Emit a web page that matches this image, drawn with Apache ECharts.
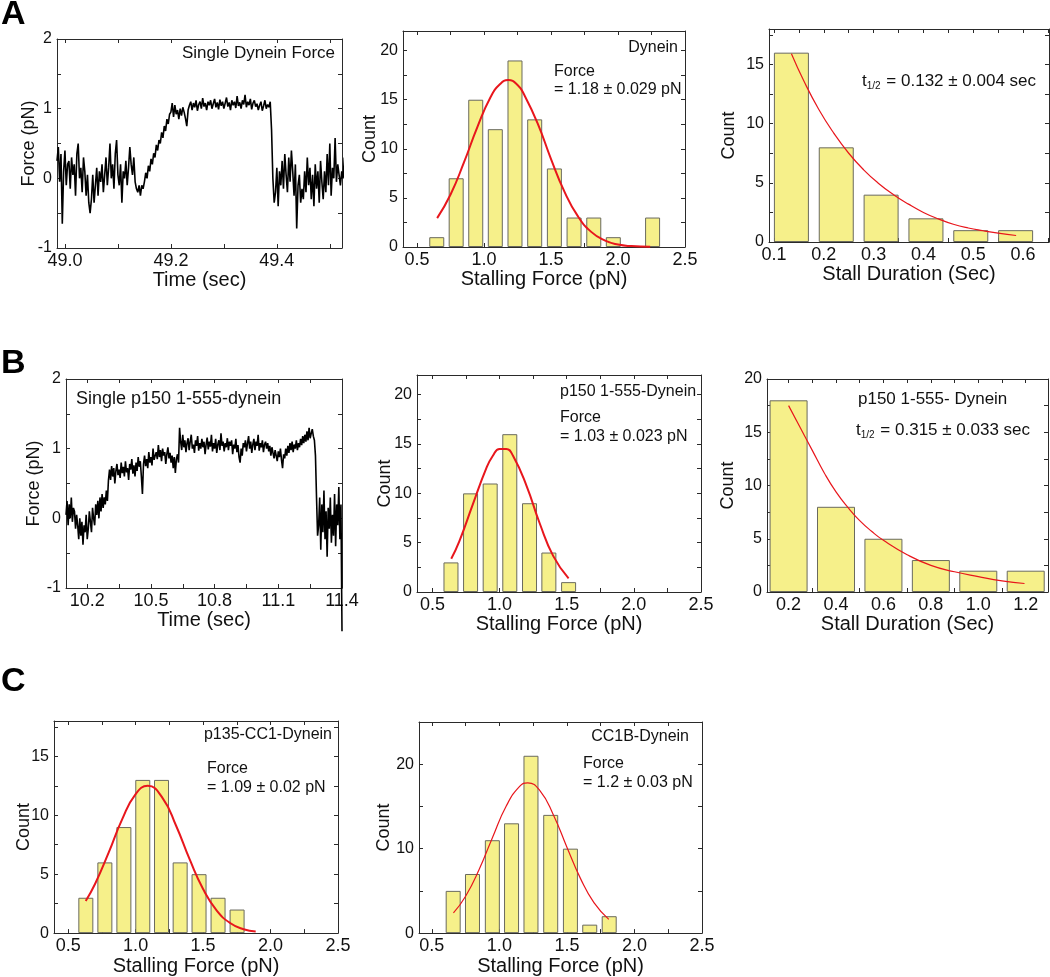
<!DOCTYPE html>
<html><head><meta charset="utf-8">
<script src="https://cdn.jsdelivr.net/npm/echarts@6.0.0/dist/echarts.min.js"></script>
<style>html,body{margin:0;padding:0;background:#fff}#c{width:1050px;height:977px}</style>
</head><body><div id="c"></div><script>
const FONT = '"Liberation Sans", Arial, Helvetica, sans-serif';

// ---------- Panel A1: single dynein force trace ----------
const traceA_start = 48.985, traceA_step = 0.0025;
const traceA_force = [
 0.25,0.45,-0.05,0.35,-0.65,0.1,0.4,-0.1,0.2,0.25,-0.15,0.3,0.05,0.2,-0.25,0.35,0.5,0.0,0.15,-0.2,0.3,0.1,-0.25,0.05,-0.35,-0.5,
 -0.3,0.05,-0.35,-0.1,0.15,-0.25,0.1,-0.05,0.2,-0.2,0.05,0.3,-0.1,0.15,0.5,0.0,0.2,-0.15,0.35,0.55,0.05,-0.1,0.2,-0.35,
 0.1,0.0,0.25,-0.1,0.15,0.45,0.2,0.05,0.3,-0.05,-0.15,-0.2,-0.1,-0.25,-0.1,-0.15,
 -0.05,0.08,0.0,0.18,0.1,0.28,0.2,0.36,0.3,0.48,0.4,0.55,0.5,0.66,0.58,0.75,0.68,0.85,0.78,0.92,
 0.95,1.08,0.88,1.05,0.92,0.98,0.85,1.0,0.9,1.02,0.95,0.86,0.75,0.98,
 1.05,1.1,0.98,1.08,1.02,1.12,0.97,1.06,1.1,1.0,1.15,1.03,1.08,0.98,1.1,1.05,1.12,1.0,1.07,1.14,
 1.02,1.09,0.99,1.13,1.04,1.1,1.0,1.08,1.16,1.03,1.09,0.98,1.12,1.05,1.1,1.01,1.18,1.04,1.09,1.0,
 1.12,1.06,1.2,1.02,1.1,1.05,1.14,0.99,1.08,1.12,1.03,1.07,0.98,1.05,1.1,0.97,1.04,1.12,1.0,1.06,
 1.02,1.1,
 0.7,0.0,-0.35,
 -0.2,0.15,-0.4,0.1,-0.1,0.25,-0.15,0.35,0.05,-0.2,0.3,-0.05,0.4,0.1,-0.25,0.2,-0.72,-0.1,0.05,-0.35,
 -0.15,-0.3,0.1,-0.2,0.3,-0.1,0.15,-0.3,0.05,-0.4,0.2,-0.15,0.1,-0.35,0.25,-0.05,-0.3,0.1,-0.2,0.35,
 -0.1,0.5,-0.25,0.15,0.0,0.58,-0.05,0.2,0.05,-0.1,0.1,0.0,0.3
];

// ---------- Panel B1: single p150 1-555-dynein trace ----------
const traceB_start = 10.1, traceB_step = 0.005;
const traceB_force = [
 0.05,0.25,-0.1,0.2,0.0,0.3,-0.05,0.15,0.1,-0.15,0.05,
 -0.1,-0.3,0.0,-0.25,-0.05,-0.38,-0.1,-0.2,0.05,-0.3,-0.15,0.1,-0.05,-0.2,0.15,0.0,-0.1,0.2,
 0.05,0.25,0.0,0.3,0.1,0.35,0.15,0.3,0.2,0.4,0.25,
 0.55,
 0.7,0.55,0.75,0.6,0.72,0.5,0.68,0.78,0.62,0.7,
 0.58,0.8,0.65,0.74,0.6,0.82,0.66,0.72,0.55,0.78,
 0.7,0.85,0.64,0.76,0.6,0.8,0.68,0.88,0.74,0.82,
 0.6,0.35,0.78,0.9,0.75,0.85,0.72,0.95,0.8,0.88,
 0.76,1.0,0.84,0.9,
 0.95,0.85,1.05,0.88,0.98,0.82,1.0,0.9,0.95,0.78,0.92,1.02,0.86,0.94,0.8,0.9,0.72,0.88,0.65,0.85,0.92,0.8,
 1.3,
 1.1,0.98,1.2,1.02,1.12,0.95,1.08,1.15,0.98,1.1,1.2,1.0,1.06,0.94,1.12,1.04,1.18,0.97,1.08,1.0,
 1.14,1.02,1.1,0.92,1.06,1.16,0.99,1.1,1.03,1.2,0.96,1.08,1.0,1.14,0.94,1.06,1.12,0.98,1.22,1.04,
 1.1,0.96,1.08,1.02,1.15,0.98,1.1,1.04,1.12,0.92,1.06,1.0,1.14,0.95,1.05,0.88,0.8,1.0,0.9,1.08,
 1.02,1.12,0.96,1.08,1.18,1.0,1.1,0.94,1.06,1.14,0.98,1.1,1.04,1.2,0.97,1.08,1.02,1.12,0.95,1.06,
 1.1,1.0,1.08,0.96,1.04,0.9,1.02,0.94,0.86,0.98,0.9,0.82,0.96,0.88,1.0,0.84,0.72,0.92,0.86,1.0,
 0.9,1.04,0.94,1.08,0.98,1.1,0.95,1.06,1.0,1.12,0.98,1.08,1.02,1.14,1.05,1.18,1.08,1.2,1.1,1.25,1.12,1.3,1.15,1.22,1.28,1.18,1.12,
 0.9,0.3,-0.25,
 -0.1,0.3,-0.45,0.2,-0.2,0.4,-0.3,0.1,-0.55,0.15,-0.15,0.3,-0.35,0.05,-0.25,0.35,-0.4,0.2,-0.1,0.45,-0.3,0.2,
 -1.62
];

// ---------- Histograms: bin centres (pN or sec) and counts ----------
const histA_force_bins   = [0.647,0.792,0.938,1.084,1.231,1.378,1.525,1.672,1.819,1.965,2.258];
const histA_force_counts = [1,7,15,12,19,13,8,3,3,1,3];
const fitA_force_x = [0.65,0.75,0.85,0.95,1.05,1.12,1.18,1.25,1.3,1.4,1.5,1.6,1.7,1.8,1.9,2.0,2.1,2.24];
const fitA_force_y = [2.94,5.35,8.61,12.21,15.3,16.6,17.0,16.5,15.5,12.6,8.96,5.64,3.14,1.54,0.67,0.25,0.09,0.02];

const histA_dur_bins   = [0.135,0.225,0.315,0.405,0.495,0.585];
const histA_dur_counts = [16,8,4,2,1,1];
const fitA_dur_x = [0.135,0.16,0.19,0.22,0.25,0.28,0.31,0.34,0.37,0.4,0.43,0.46,0.49,0.52,0.55,0.586];
const fitA_dur_y = [15.9,13.6,11.2,9.2,7.5,6.1,4.95,4.0,3.2,2.5,1.95,1.5,1.18,0.95,0.75,0.55];

const histB_force_bins   = [0.638,0.784,0.93,1.076,1.223,1.367,1.514];
const histB_force_counts = [3,10,11,16,9,4,1];
const fitB_force_x = [0.64,0.7,0.8,0.9,0.95,1.0,1.05,1.1,1.2,1.3,1.4,1.514];
const fitB_force_y = [3.38,5.14,8.86,12.51,13.81,14.51,14.51,13.81,10.79,6.92,3.64,1.38];

const histB_dur_bins   = [0.2,0.4,0.6,0.8,1.0,1.2];
const histB_dur_counts = [18,8,5,3,2,2];
const fitB_dur_x = [0.2,0.25,0.3,0.35,0.4,0.45,0.5,0.55,0.6,0.7,0.8,0.9,1.0,1.1,1.195];
const fitB_dur_y = [17.5,15.4,13.3,11.2,9.4,7.95,6.7,5.7,4.85,3.5,2.5,1.9,1.45,1.05,0.8];

const histC1_bins   = [0.631,0.772,0.913,1.053,1.192,1.33,1.47,1.611,1.752];
const histC1_counts = [3,6,9,13,13,6,5,3,2];
const fitC1_x = [0.63,0.7,0.8,0.9,1.0,1.09,1.2,1.3,1.4,1.5,1.6,1.7,1.8,1.89];
const fitC1_y = [2.73,4.19,6.83,9.65,11.79,12.5,11.46,9.11,6.27,3.74,1.93,0.86,0.33,0.13];

const histC2_bins   = [0.658,0.801,0.948,1.09,1.234,1.38,1.526,1.669,1.813];
const histC2_counts = [5,7,11,13,21,14,10,1,2];
const fitC2_x = [0.66,0.75,0.85,0.95,1.05,1.15,1.21,1.3,1.4,1.5,1.6,1.7,1.81];
const fitC2_y = [2.39,4.37,7.53,11.36,15.02,17.38,17.8,16.87,14.0,10.18,6.48,3.61,1.63];

// ---------- Tick values and tick labels ----------
const ticksA1_x  = [49.0,49.1,49.2,49.3,49.4,49.5];
const labelsA1_x = [49.0,49.2,49.4];
const ticksB1_x  = [10.2,10.35,10.5,10.65,10.8,10.95,11.1,11.25,11.4];
const labelsB1_x = [10.2,10.5,10.8,11.1,11.4];
const ticksTrace_y  = [-1,-0.5,0,0.5,1,1.5,2];
const labelsTrace_y = [-1,0,1,2];
const ticksForce_x  = [0.5,0.75,1.0,1.25,1.5,1.75,2.0,2.25,2.5];
const labelsForce_x = [0.5,1.0,1.5,2.0,2.5];
const ticksDurA_x  = [0.1,0.15,0.2,0.25,0.3,0.35,0.4,0.45,0.5,0.55,0.6,0.65];
const labelsDurA_x = [0.1,0.2,0.3,0.4,0.5,0.6];
const ticksDurB_x  = [0.2,0.3,0.4,0.5,0.6,0.7,0.8,0.9,1.0,1.1,1.2];
const labelsDurB_x = [0.2,0.4,0.6,0.8,1.0,1.2];
const ticksCount20_y  = [0,2.5,5,7.5,10,12.5,15,17.5,20];
const labelsCount20_y = [0,5,10,15,20];
const ticksCount18_y  = [0,2.5,5,7.5,10,12.5,15,17.5];
const labelsCount15_y = [0,5,10,15];
const ticksCount25_y  = [0,5,10,15,20,25];
const labelsCount25_y = [0,10,20];

const option = {animation:false, backgroundColor:'#fff', grid:[], xAxis:[], yAxis:[], series:[], graphic:[]};
const LINE = '#2a2a2a', TXT = '#111';

function panel(c) {
  const g = option.grid.length;
  option.grid.push({left:c.box[0], top:c.box[1], width:c.box[2], height:c.box[3], show:false});
  const axisLine = {show:true, onZero:false, lineStyle:{color:LINE, width:1}};
  const tick = v => ({show:true, inside:true, length:4, customValues:v, lineStyle:{color:LINE, width:1}});
  const xi = option.xAxis.length;
  option.xAxis.push({type:'value', gridIndex:g, position:'bottom', min:c.x[0], max:c.x[1],
    axisLine, axisTick:tick(c.xTicks), splitLine:{show:false},
    axisLabel:{customValues:c.xLabels, formatter:v => v.toFixed(1), fontSize:18, color:TXT, fontFamily:FONT, margin:4},
    name:c.xName, nameLocation:'middle', nameGap:c.xGap,
    nameTextStyle:{fontSize:20, color:TXT, fontFamily:FONT}});
  option.xAxis.push({type:'value', gridIndex:g, position:'top', min:c.x[0], max:c.x[1],
    axisLine, axisTick:tick(c.xTicks), splitLine:{show:false}, axisLabel:{show:false}});
  const yi = option.yAxis.length;
  option.yAxis.push({type:'value', gridIndex:g, position:'left', min:c.y[0], max:c.y[1],
    axisLine, axisTick:tick(c.yTicks), splitLine:{show:false},
    axisLabel:{customValues:c.yLabels, formatter:v => String(v), fontSize:16, color:TXT, fontFamily:FONT, margin:5},
    name:c.yName, nameLocation:'middle', nameGap:c.yGap, nameMoveOverlap:false,
    nameTextStyle:{fontSize:18, color:TXT, fontFamily:FONT}});
  option.yAxis.push({type:'value', gridIndex:g, position:'right', min:c.y[0], max:c.y[1],
    axisLine, axisTick:tick(c.yTicks), splitLine:{show:false}, axisLabel:{show:false}});
  return {xAxisIndex:xi, yAxisIndex:yi};
}

function trace(ax, start, step, vals, clip) {
  option.series.push(Object.assign({type:'line', data: vals.map((v,i) => [start + i*step, v]),
    symbol:'none', showSymbol:false, clip:clip, silent:true,
    lineStyle:{color:'#000', width:1.6}}, ax));
}
function hist(ax, bins, counts, bw, fx, fy, fw) {
  option.series.push(Object.assign({type:'bar', data: bins.map((b,i) => [b, counts[i]]), barWidth:bw,
    silent:true, itemStyle:{color:'#f6f08a', borderColor:'#6a6a5e', borderWidth:1}}, ax));
  option.series.push(Object.assign({type:'line', data: fx.map((x,i) => [x, fy[i]]), smooth:0.5,
    symbol:'none', showSymbol:false, silent:true, z:5,
    lineStyle:{color:'#e8161c', width:fw}}, ax));
}

// Panel A
let ax = panel({box:[57,39,285,209], x:[48.985,49.523], y:[-1,2], xTicks:ticksA1_x, xLabels:labelsA1_x,
  yTicks:ticksTrace_y, yLabels:labelsTrace_y, xName:'Time (sec)', yName:'Force (pN)', xGap:22, yGap:19});
trace(ax, traceA_start, traceA_step, traceA_force, true);

ax = panel({box:[403,31,282,216], x:[0.395,2.5], y:[0,22], xTicks:ticksForce_x, xLabels:labelsForce_x,
  yTicks:ticksCount20_y, yLabels:labelsCount20_y, xName:'Stalling Force (pN)', yName:'Count', xGap:17, yGap:24});
hist(ax, histA_force_bins, histA_force_counts, 15, fitA_force_x, fitA_force_y, 2);

ax = panel({box:[769,29,280,213], x:[0.09,0.652], y:[0,18], xTicks:ticksDurA_x, xLabels:labelsDurA_x,
  yTicks:ticksCount18_y, yLabels:labelsCount15_y, xName:'Stall Duration (Sec)', yName:'Count', xGap:21, yGap:31});
hist(ax, histA_dur_bins, histA_dur_counts, 35, fitA_dur_x, fitA_dur_y, 1.2);

// Panel B
ax = panel({box:[66,379,276,209], x:[10.1,11.4], y:[-1,2], xTicks:ticksB1_x, xLabels:labelsB1_x,
  yTicks:ticksTrace_y, yLabels:labelsTrace_y, xName:'Time (sec)', yName:'Force (pN)', xGap:18, yGap:23});
trace(ax, traceB_start, traceB_step, traceB_force, false);

ax = panel({box:[417,375,284,217], x:[0.385,2.5], y:[0,22], xTicks:ticksForce_x, xLabels:labelsForce_x,
  yTicks:ticksCount20_y, yLabels:labelsCount20_y, xName:'Stalling Force (pN)', yName:'Count', xGap:16, yGap:23});
hist(ax, histB_force_bins, histB_force_counts, 15, fitB_force_x, fitB_force_y, 2);

ax = panel({box:[767,379,281,213], x:[0.109,1.294], y:[0,20], xTicks:ticksDurB_x, xLabels:labelsDurB_x,
  yTicks:ticksCount20_y, yLabels:labelsCount20_y, xName:'Stall Duration (Sec)', yName:'Count', xGap:20, yGap:30});
hist(ax, histB_dur_bins, histB_dur_counts, 38, fitB_dur_x, fitB_dur_y, 1.2);

// Panel C
ax = panel({box:[54,721,284,216], x:[0.395,2.5], y:[0,18], xTicks:ticksForce_x, xLabels:labelsForce_x,
  yTicks:ticksCount18_y, yLabels:labelsCount15_y, xName:'Stalling Force (pN)', yName:'Count', xGap:15, yGap:21});
hist(ax, histC1_bins, histC1_counts, 15, fitC1_x, fitC1_y, 2);

ax = panel({box:[419,722,283,215], x:[0.405,2.5], y:[0,25], xTicks:ticksForce_x, xLabels:labelsForce_x,
  yTicks:ticksCount25_y, yLabels:labelsCount25_y, xName:'Stalling Force (pN)', yName:'Count', xGap:15, yGap:26});
hist(ax, histC2_bins, histC2_counts, 15, fitC2_x, fitC2_y, 1.2);

// ---------- Text annotations ----------
function txt(x, y, text, align, size, extra) {
  option.graphic.push({type:'text', x:x, y:y, silent:true, z:100,
    style:Object.assign({text:text, fill:TXT, font:(size || 16) + 'px ' + FONT, textAlign:align, align:align,
      textVerticalAlign:'middle', verticalAlign:'middle'}, extra || {})});
}
function half(x, y, text) {
  option.graphic.push({type:'text', x:x, y:y, silent:true, z:100,
    style:{text:'{a|t}{b|1/2}{a| = ' + text + '}', fill:TXT, textAlign:'left', align:'left',
      textVerticalAlign:'middle', verticalAlign:'middle',
      rich:{a:{fontSize:17, fontFamily:FONT, fill:TXT, color:TXT, lineHeight:20},
            b:{fontSize:10, fontFamily:FONT, fill:TXT, color:TXT, lineHeight:10, padding:[11,1,0,0]}}}});
}
const LETTER = {font:'bold 34px ' + FONT, fill:'#000'};
txt(1, 15, 'A', 'left', 34, LETTER);
txt(1, 364, 'B', 'left', 34, LETTER);
txt(1, 682, 'C', 'left', 34, LETTER);

txt(335, 53, 'Single Dynein Force', 'right', 17);
txt(678, 48, 'Dynein', 'right');
txt(554, 72, 'Force', 'left');
txt(554, 90, '= 1.18 ± 0.029 pN', 'left');
half(862, 81, '0.132 ± 0.004 sec');

txt(76, 399, 'Single p150 1-555-dynein', 'left', 18);
txt(560, 392, 'p150 1-555-Dynein', 'left');
txt(560, 418, 'Force', 'left');
txt(560, 437, '= 1.03 ± 0.023 pN', 'left');
txt(858, 399, 'p150 1-555- Dynein', 'left', 17);
half(856, 430, '0.315 ± 0.033 sec');

txt(332, 735, 'p135-CC1-Dynein', 'right');
txt(207, 769, 'Force', 'left');
txt(207, 788, '= 1.09 ± 0.02 pN', 'left');
txt(689, 737, 'CC1B-Dynein', 'right');
txt(583, 764, 'Force', 'left');
txt(583, 783, '= 1.2 ± 0.03 pN', 'left');

const chart = echarts.init(document.getElementById('c'), null, {renderer:'canvas'});
chart.setOption(option);
</script></body></html>
